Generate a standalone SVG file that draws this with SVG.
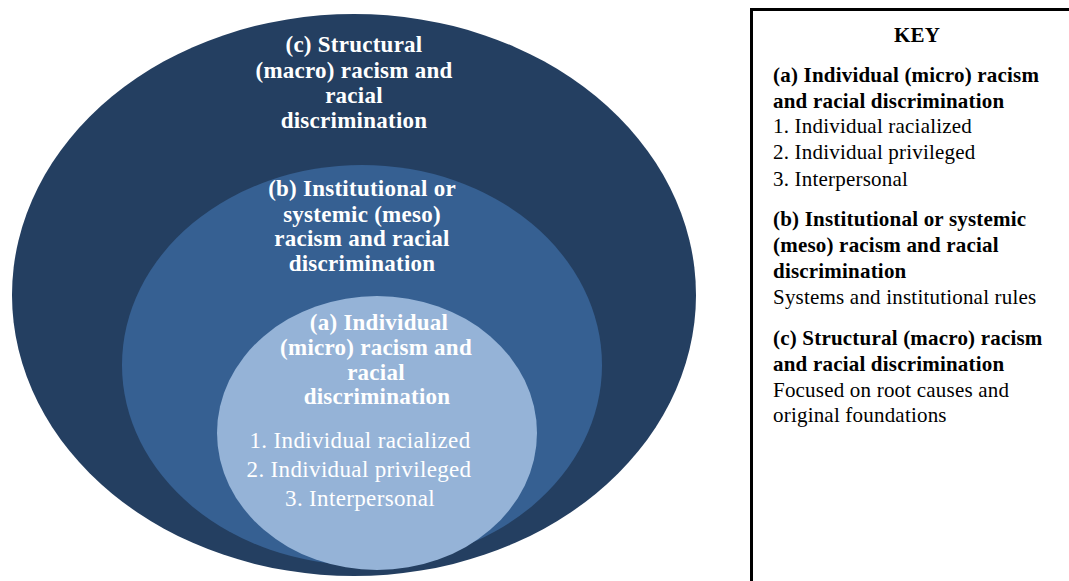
<svg xmlns="http://www.w3.org/2000/svg" width="1069" height="581" viewBox="0 0 1069 581">
<style>
.h{font-family:"Liberation Serif",serif;font-weight:bold;font-size:23px;letter-spacing:0.25px;fill:#fff;text-anchor:middle}
.l{font-family:"Liberation Serif",serif;font-size:23px;letter-spacing:0.35px;fill:#fff;text-anchor:middle}
.kb{font-family:"Liberation Serif",serif;font-weight:bold;font-size:21px;letter-spacing:0.2px;fill:#000}
.kn{font-family:"Liberation Serif",serif;font-size:21px;letter-spacing:0.2px;fill:#000}
</style>
<rect width="1069" height="581" fill="#fff"/>
<g id="outer">
<ellipse cx="354" cy="295" rx="342" ry="281" fill="#243f61"/>
<text class="h" x="354" y="52">(c) Structural</text>
<text class="h" x="354" y="78">(macro) racism and</text>
<text class="h" x="354" y="103">racial</text>
<text class="h" x="354" y="128">discrimination</text>
</g>
<g id="middle">
<ellipse cx="362" cy="365" rx="240" ry="200" fill="#366092"/>
<text class="h" x="362" y="196">(b) Institutional or</text>
<text class="h" x="362" y="222">systemic (meso)</text>
<text class="h" x="362" y="246">racism and racial</text>
<text class="h" x="362" y="271">discrimination</text>
</g>
<g id="inner">
<ellipse cx="377" cy="433" rx="160" ry="137" fill="#95b3d7"/>
<text class="h" x="379" y="330">(a) Individual</text>
<text class="h" x="376" y="355">(micro) racism and</text>
<text class="h" x="376" y="380">racial</text>
<text class="h" x="377" y="404">discrimination</text>
<text class="l" x="360" y="448">1. Individual racialized</text>
<text class="l" x="359" y="477">2. Individual privileged</text>
<text class="l" x="360" y="506">3. Interpersonal</text>
</g>
<g id="key">
<path d="M751.5 590 V9.5 H1075" fill="none" stroke="#000" stroke-width="3"/>
<text class="kb" x="917" y="42" text-anchor="middle">KEY</text>
<text class="kb" x="773" y="82">(a) Individual (micro) racism</text>
<text class="kb" x="773" y="108">and racial discrimination</text>
<text class="kn" x="773" y="133">1. Individual racialized</text>
<text class="kn" x="773" y="159">2. Individual privileged</text>
<text class="kn" x="773" y="186">3. Interpersonal</text>
<text class="kb" x="773" y="226">(b) Institutional or systemic</text>
<text class="kb" x="773" y="252">(meso) racism and racial</text>
<text class="kb" x="773" y="278">discrimination</text>
<text class="kn" x="773" y="304">Systems and institutional rules</text>
<text class="kb" x="773" y="345">(c) Structural (macro) racism</text>
<text class="kb" x="773" y="371">and racial discrimination</text>
<text class="kn" x="773" y="397">Focused on root causes and</text>
<text class="kn" x="773" y="422">original foundations</text>
</g>
<g id="connectors"/>
</svg>
